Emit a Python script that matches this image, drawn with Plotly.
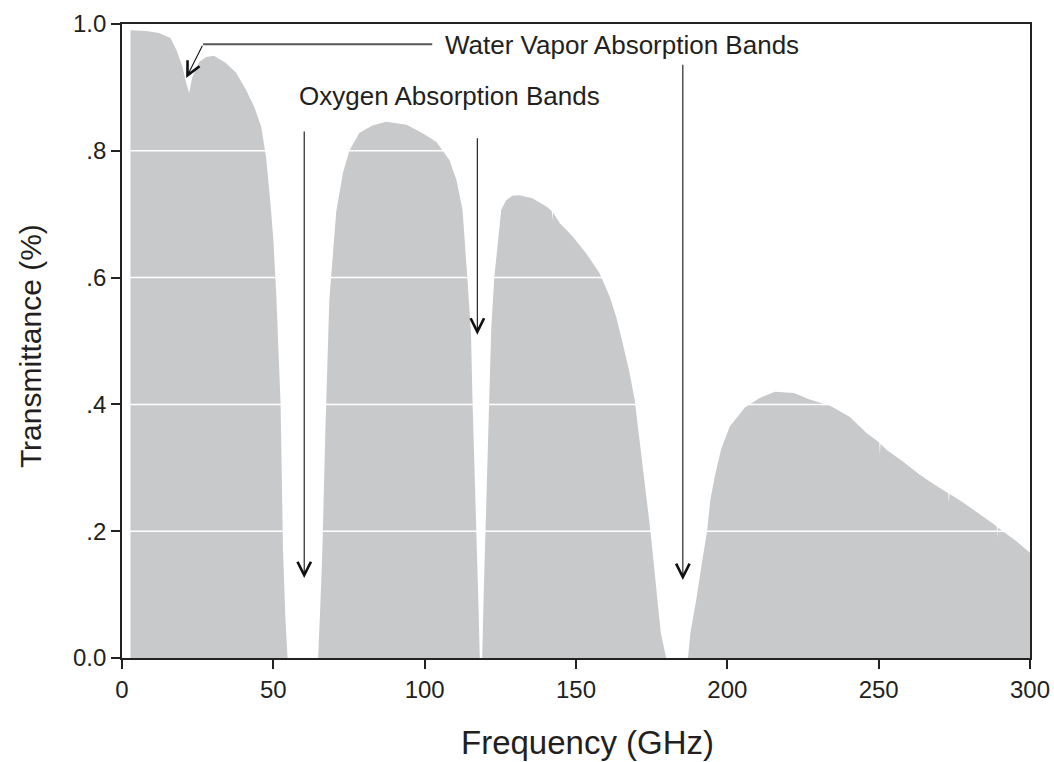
import plotly.graph_objects as go

# Frequency (GHz) and transmittance
freq = [2.8, 3.0, 8, 12.2, 16, 18, 20, 21.2, 22.2, 23.2, 25.5, 27.8, 30.4, 34.4, 37.7, 41, 43.7, 46, 47,
        47.6, 49, 50, 51, 52, 52.4, 53.2, 54, 54.7,
        64.8, 65.5, 66.2, 67.2, 68.5, 70.8, 73, 75.1, 78.4, 82.7, 87.3, 94, 99.2, 103.9, 105.9, 108.2,
        110.5, 112.5, 114.1, 115.3, 115.8, 116.5, 117.3, 117.8, 118.2,
        119.0, 119.5, 120.2, 121.2, 122, 123, 125.3, 126.9, 129, 131.3, 135.6, 140.2, 142.0, 142.2, 142.4,
        144.6, 148.9, 153.4, 157.8, 161.1, 163.3, 165.4, 167.7, 169.4, 171, 172.5, 173.8, 174.6, 175.8,
        176.8, 178, 179.8,
        187.0, 187.8, 189.7, 191.4, 193.3, 194.4, 196, 198, 200.8, 205.8, 210.7, 215.7, 222, 227, 234,
        240.5, 246, 250.2, 250.4, 250.6, 252.7, 258, 263.6, 268, 273, 273.2, 273.4, 278, 284, 289,
        289.2, 289.4, 291, 295, 300]
trans = [0.99, 0.99, 0.989, 0.986, 0.978, 0.959, 0.932, 0.907, 0.891, 0.916, 0.940, 0.948, 0.950, 0.938,
         0.923, 0.896, 0.869, 0.838, 0.806,
         0.79, 0.72, 0.66, 0.57, 0.46, 0.40, 0.17, 0.06, 0.0,
         0.0, 0.08, 0.17, 0.36, 0.565, 0.705, 0.765, 0.80, 0.828, 0.84, 0.846, 0.841, 0.828, 0.814, 0.80,
         0.785, 0.754, 0.707, 0.60, 0.513, 0.407, 0.30, 0.18, 0.08, 0.0,
         0.0, 0.10, 0.22, 0.41, 0.52, 0.60, 0.707, 0.722, 0.729, 0.730, 0.725, 0.712, 0.705, 0.69, 0.703,
         0.686, 0.665, 0.638, 0.607, 0.57, 0.538, 0.497, 0.45, 0.407, 0.345, 0.285, 0.235, 0.20, 0.144,
         0.091, 0.04, 0.0,
         0.0, 0.04, 0.091, 0.144, 0.20, 0.25, 0.29, 0.33, 0.365, 0.395, 0.41, 0.42, 0.418, 0.408, 0.398,
         0.38, 0.355, 0.34, 0.32, 0.338, 0.328, 0.31, 0.289, 0.275, 0.26, 0.245, 0.259, 0.245, 0.225,
         0.208, 0.19, 0.206, 0.20, 0.186, 0.166]

x_ticks = [0, 50, 100, 150, 200, 250, 300]
y_ticks = [0, 0.2, 0.4, 0.6, 0.8, 1.0]
y_tick_text = ["0.0", ".2", ".4", ".6", ".8", "1.0"]
grid_levels = [0.2, 0.4, 0.6, 0.8]

FONT = "Liberation Sans, Arial, sans-serif"
TXT = "#231f20"

fig = go.Figure()
fig.add_trace(go.Scatter(x=freq, y=trans, mode="lines", fill="tozeroy",
                         fillcolor="#c8c9cb", line=dict(width=0, color="#c8c9cb"),
                         hoverinfo="skip", showlegend=False))

shapes = []
for g in grid_levels:
    shapes.append(dict(type="line", xref="paper", x0=0, x1=1, yref="y", y0=g, y1=g,
                       line=dict(color="white", width=1.5), layer="above"))
# horizontal leader of the water vapor label
shapes.append(dict(type="line", xref="x", yref="y", x0=26.8, x1=102.5, y0=0.968, y1=0.968,
                   line=dict(color="#555555", width=2), layer="above"))

annotations = [
    dict(x=165.2, y=0.967, xref="x", yref="y", text="Water Vapor Absorption Bands",
         showarrow=False, font=dict(family=FONT, size=26, color=TXT)),
    dict(x=108.2, y=0.886, xref="x", yref="y", text="Oxygen Absorption Bands",
         showarrow=False, font=dict(family=FONT, size=26, color=TXT)),
    # axis titles
    dict(x=0.5128, y=-0.1325, xref="paper", yref="paper", text="Frequency (GHz)",
         showarrow=False, xanchor="center", yanchor="middle",
         font=dict(family=FONT, size=33, color=TXT)),
    dict(x=-0.1013, y=0.492, xref="paper", yref="paper", text="Transmittance (%)",
         showarrow=False, textangle=-90, xanchor="center", yanchor="middle",
         font=dict(family=FONT, size=30, color=TXT)),
]
arrows = [  # (head x, head y, tail x, tail y)
    (21.2, 0.915, 26.8, 0.968),
    (60.2, 0.126, 60.2, 0.833),
    (117.4, 0.51, 117.4, 0.822),
    (185.3, 0.123, 185.3, 0.938),
]
for hx, hy, tx, ty in arrows:
    annotations.append(dict(x=hx, y=hy, ax=tx, ay=ty, xref="x", yref="y", axref="x", ayref="y",
                            text="", showarrow=True, arrowhead=5, arrowsize=2.4, arrowwidth=1.1,
                            arrowcolor="#111111", standoff=0))

fig.update_layout(
    template="none",
    width=1054, height=762, autosize=False,
    margin=dict(l=122, r=24, t=24, b=104, pad=0),
    paper_bgcolor="white", plot_bgcolor="white",
    font=dict(family=FONT, color=TXT),
    shapes=shapes, annotations=annotations,
    xaxis=dict(range=[0, 300], tickvals=x_ticks, ticks="outside", ticklen=9, tickwidth=1.5,
               tickcolor="#222", showline=True, linecolor="#222", linewidth=1.8, mirror=True,
               showgrid=False, zeroline=False, automargin=False,
               tickfont=dict(size=24, family=FONT, color=TXT)),
    yaxis=dict(range=[0, 1], tickvals=y_ticks, ticktext=y_tick_text, ticks="outside", ticklen=9,
               tickwidth=1.5, tickcolor="#222", showline=True, linecolor="#222", linewidth=1.8,
               mirror=True, showgrid=False, zeroline=False, automargin=False,
               tickfont=dict(size=24, family=FONT, color=TXT)),
)

fig.write_html("out.html")
